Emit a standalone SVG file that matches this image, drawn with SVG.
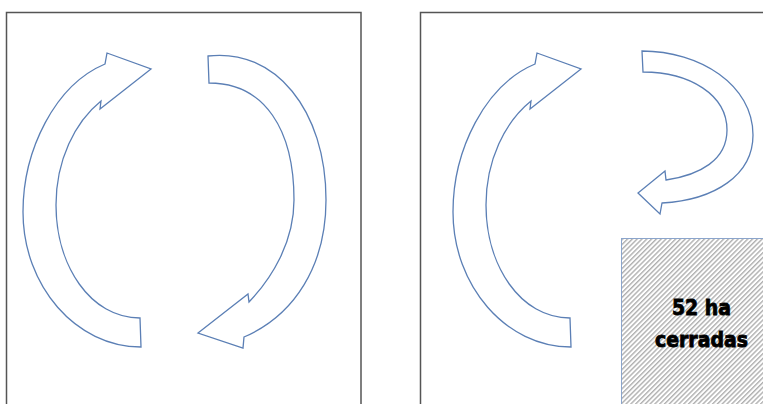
<svg xmlns="http://www.w3.org/2000/svg" width="763" height="404" viewBox="0 0 763 404">
  <style>
    .frame { fill: #fff; stroke: #555; stroke-width: 1.5; }
    .arrow { fill: #fff; stroke: #5b7fb5; stroke-width: 1.3; stroke-linejoin: miter; }
    .lbl { font-family: "DejaVu Sans Condensed", "DejaVu Sans", sans-serif; font-weight: bold; font-size: 21px; fill: #000; stroke: #000; stroke-width: 0.8; text-anchor: middle; }
  </style>
  <defs>
    <pattern id="hatch" patternUnits="userSpaceOnUse" width="3.4" height="10" patternTransform="rotate(45)">
      <rect x="0" y="0" width="3.4" height="10" fill="#fff"/>
      <rect x="0" y="0" width="1.4" height="10" fill="#b0b0b0"/>
    </pattern>
    <path id="leftArc" d="M 141,347 C 76,347 23,286 23,212 C 23,150 55,85 105,64 L 107,53 L 151,69 L 100,109 L 101,101 C 75,122 56,160 56,205 C 56,265 90,318 140,318 Z"/>
  </defs>
  <rect width="763" height="404" fill="#fff"/>
  <g id="panel-left">
    <rect class="frame" x="6.5" y="12.5" width="354.5" height="420"/>
  </g>
  <g id="panel-right">
    <rect class="frame" x="420.5" y="12.5" width="360" height="420"/>
  </g>
  <g id="arrow-left-1">
    <use href="#leftArc" class="arrow"/>
  </g>
  <g id="arrow-right-1">
    <path class="arrow" d="M 208,56 C 275,48 326,110 326,200 C 326,265 295,315 244,337 L 243,348 L 198,333 L 248,294 L 249,302 C 272,278 294,242 294,200 C 294,130 265,83 209,83 Z"/>
  </g>
  <g id="arrow-left-2">
    <use href="#leftArc" class="arrow" transform="translate(430,0)"/>
  </g>
  <g id="arrow-right-2">
    <path class="arrow" d="M 642,51 C 700,51 753,85 753,135 C 753,175 715,200 662,203 L 660,214 L 638,193 L 665,171 L 666,180 C 700,175 727,160 727,130 C 727,95 690,72 643,72 Z"/>
  </g>
  <g id="closed-area">
    <rect x="621.5" y="238.5" width="160" height="200" fill="url(#hatch)" stroke="#8ba5cc" stroke-width="1"/>
    <text class="lbl" x="701.5" y="315">52 ha</text>
    <text class="lbl" x="701.5" y="347">cerradas</text>
  </g>
</svg>
